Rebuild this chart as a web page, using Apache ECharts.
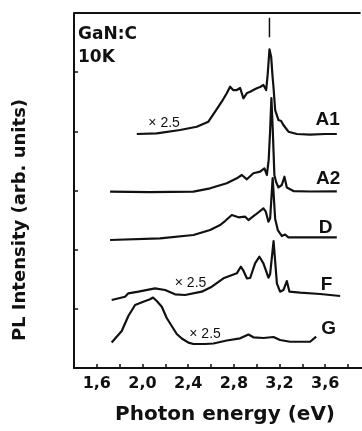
<!DOCTYPE html>
<html>
<head>
<meta charset="utf-8">
<script src="https://cdn.jsdelivr.net/npm/echarts@6/dist/echarts.min.js"></script>
<style>
  html, body { margin: 0; padding: 0; background: #fff; }
  #chart { width: 362px; height: 431px; }
</style>
</head>
<body>
<div id="chart"></div>
<script>
// Photon energy tick labels (decimal comma)
const xTickLabels = ['1,6', '2,0', '2,4', '2,8', '3,2', '3,6'];

// PL spectra, [photon energy (eV), stacked intensity (arb. units)]
const spectrumA1 = [
  [1.950, 3.955], [2.125, 3.967], [2.329, 4.022], [2.475, 4.078], [2.577, 4.163],
  [2.636, 4.332], [2.694, 4.501], [2.738, 4.643], [2.767, 4.754], [2.794, 4.698],
  [2.826, 4.698], [2.855, 4.732], [2.884, 4.558], [2.916, 4.648], [2.943, 4.670],
  [2.971, 4.698], [3.001, 4.727], [3.030, 4.749], [3.059, 4.783], [3.083, 4.698],
  [3.096, 4.952], [3.112, 5.386], [3.127, 5.256], [3.138, 4.952], [3.147, 4.754],
  [3.162, 4.360], [3.191, 4.191], [3.214, 4.174], [3.234, 4.107], [3.278, 3.994],
  [3.352, 3.955], [3.468, 3.946], [3.600, 3.955], [3.702, 3.955]
];
const spectrumA2 = [
  [1.716, 2.980], [2.066, 2.974], [2.446, 2.980], [2.592, 3.037], [2.738, 3.122],
  [2.826, 3.206], [2.870, 3.262], [2.914, 3.189], [2.971, 3.291], [3.030, 3.318],
  [3.068, 3.375], [3.089, 3.262], [3.105, 3.515], [3.118, 4.022], [3.129, 4.563],
  [3.141, 4.022], [3.155, 3.262], [3.170, 3.143], [3.191, 3.051], [3.220, 3.093],
  [3.243, 3.233], [3.264, 3.051], [3.322, 2.991], [3.468, 2.983], [3.702, 2.986]
];
const spectrumD = [
  [1.716, 2.163], [2.154, 2.192], [2.446, 2.248], [2.592, 2.332], [2.680, 2.417],
  [2.723, 2.484], [2.782, 2.586], [2.840, 2.547], [2.899, 2.557], [2.928, 2.501],
  [2.986, 2.586], [3.059, 2.699], [3.080, 2.642], [3.103, 2.473], [3.118, 2.530],
  [3.140, 3.211], [3.162, 2.518], [3.185, 2.332], [3.220, 2.231], [3.249, 2.256],
  [3.278, 2.209], [3.468, 2.209], [3.702, 2.209]
];
const spectrumF = [
  [1.730, 1.149], [1.847, 1.205], [1.876, 1.262], [1.891, 1.234], [1.964, 1.290],
  [2.110, 1.347], [2.198, 1.318], [2.285, 1.246], [2.373, 1.234], [2.519, 1.290],
  [2.607, 1.374], [2.709, 1.516], [2.826, 1.600], [2.861, 1.712], [2.881, 1.656],
  [2.914, 1.516], [2.943, 1.521], [2.986, 1.769], [3.024, 1.881], [3.059, 1.769],
  [3.103, 1.526], [3.118, 1.589], [3.148, 2.146], [3.177, 1.431], [3.205, 1.290],
  [3.234, 1.318], [3.264, 1.470], [3.287, 1.290], [3.381, 1.273], [3.556, 1.251],
  [3.731, 1.217]
];
const spectrumG = [
  [1.730, 0.431], [1.818, 0.625], [1.876, 0.879], [1.935, 1.065], [2.007, 1.121],
  [2.066, 1.161], [2.092, 1.191], [2.125, 1.132], [2.169, 1.036], [2.212, 0.845],
  [2.256, 0.710], [2.300, 0.575], [2.344, 0.499], [2.402, 0.428], [2.446, 0.406],
  [2.548, 0.406], [2.621, 0.414], [2.738, 0.465], [2.855, 0.502], [2.928, 0.566],
  [2.971, 0.519], [3.059, 0.507], [3.147, 0.524], [3.205, 0.473], [3.293, 0.444],
  [3.468, 0.444], [3.521, 0.529]
];

// Sample names and where they sit
const curveNames = ['A1', 'A2', 'D', 'F', 'G'];
const curveLabelPos = [[3.622, 4.19], [3.626, 3.19], [3.604, 2.37], [3.613, 1.40], [3.630, 0.67]];

// Magnification notes
const scaleNote = '× 2.5';
const scaleNotePos = [[2.189, 4.14], [2.421, 1.43], [2.548, 0.575]];

// Sample / temperature heading
const headingText = ['GaN:C', '10K'];
const headingPos = [[1.435, 5.64], [1.435, 5.25]];

// Reference marker above the main peak
const markerEnergy = 3.112;
const markerSpan = [5.59, 5.92];

// Axis ranges; the frame's top edge stops a little before the axis end
const energyRange = [1.4, 3.94];
const frameEnd = 3.91;
const intensityRange = [0, 6];

const ink = '#111';
const spectra = [spectrumA1, spectrumA2, spectrumD, spectrumF, spectrumG];

function textSeries(points, texts, font, size, align) {
  return {
    type: 'scatter',
    symbolSize: 0,
    silent: true,
    itemStyle: { color: 'transparent', opacity: 1 },
    data: points.map((p, i) => ({ value: p, name: texts[i] })),
    label: {
      show: true,
      position: 'inside',
      formatter: '{b}',
      color: ink,
      opacity: 1,
      fontFamily: font.family,
      fontWeight: font.weight,
      fontSize: size,
      align: align,
      verticalAlign: 'middle'
    },
    z: 5
  };
}

const chart = echarts.init(document.getElementById('chart'), null, { renderer: 'canvas' });

const option = {
  animation: false,
  backgroundColor: '#fff',
  grid: { left: 74, right: -2, top: 13, bottom: 63, outerBoundsMode: 'none', containLabel: false },
  xAxis: {
    type: 'value',
    min: energyRange[0],
    max: energyRange[1],
    interval: 0.2,
    axisLine: { show: true, onZero: false, lineStyle: { color: ink, width: 2 } },
    axisTick: { show: true, inside: true, length: 4, lineStyle: { color: ink, width: 1.5 } },
    splitLine: { show: false },
    axisLabel: {
      show: true,
      margin: 8,
      color: ink,
      fontFamily: 'DejaVu Sans',
      fontWeight: 'bold',
      fontSize: 16,
      showMaxLabel: false,
      showMinLabel: false,
      formatter: v => {
        const k = (v - 1.6) / 0.4;
        const r = Math.round(k);
        return (Math.abs(k - r) < 1e-6 && r >= 0 && r < xTickLabels.length) ? xTickLabels[r] : '';
      }
    },
    name: 'Photon energy (eV)',
    nameLocation: 'middle',
    nameGap: 37,
    nameTextStyle: {
      color: ink,
      fontFamily: 'DejaVu Sans',
      fontWeight: 'bold',
      fontSize: 20,
      padding: [0, 0, 0, 12]
    }
  },
  yAxis: {
    type: 'value',
    min: intensityRange[0],
    max: intensityRange[1],
    interval: 1,
    axisLine: { show: true, onZero: false, lineStyle: { color: ink, width: 2 } },
    axisTick: { show: true, inside: true, length: 4, lineStyle: { color: ink, width: 1.5 } },
    axisLabel: { show: false },
    splitLine: { show: false }
  },
  graphic: [
    {
      type: 'text',
      x: 20,
      y: 220,
      rotation: Math.PI / 2,
      style: {
        text: 'PL Intensity (arb. units)',
        fill: ink,
        font: 'bold 18px "DejaVu Sans"',
        align: 'center',
        verticalAlign: 'middle'
      }
    }
  ],
  series: [
    ...spectra.map(s => ({
      type: 'line',
      data: s,
      showSymbol: false,
      symbol: 'none',
      silent: true,
      lineStyle: { color: ink, width: 2.2, join: 'round' },
      z: 3
    })),
    {
      type: 'line',
      data: [[markerEnergy, markerSpan[0]], [markerEnergy, markerSpan[1]]],
      symbol: 'none',
      silent: true,
      lineStyle: { color: ink, width: 1.5 },
      z: 3
    },
    {
      // top edge of the frame
      type: 'line',
      data: [[energyRange[0], intensityRange[1]], [frameEnd, intensityRange[1]]],
      symbol: 'none',
      silent: true,
      clip: false,
      lineStyle: { color: ink, width: 2 },
      z: 4
    },
    textSeries(curveLabelPos, curveNames, { family: 'Liberation Sans', weight: 'bold' }, 19, 'center'),
    textSeries(scaleNotePos, scaleNotePos.map(() => scaleNote), { family: 'Liberation Sans', weight: 'normal' }, 14, 'center'),
    textSeries(headingPos, headingText, { family: 'DejaVu Sans', weight: 'bold' }, 17, 'left')
  ]
};

chart.setOption(option);
</script>
</body>
</html>
